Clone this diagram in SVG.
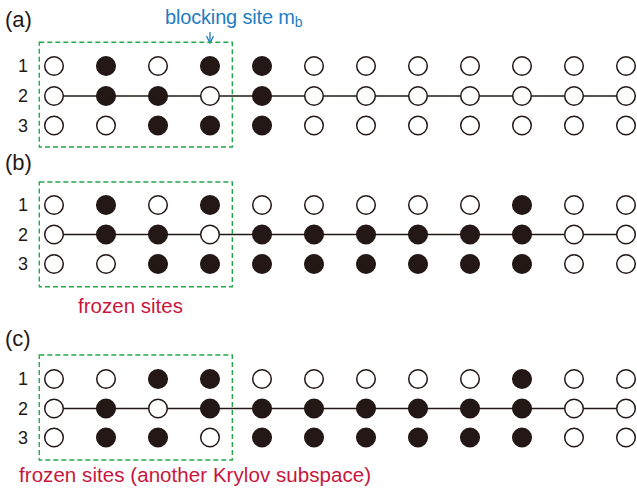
<svg xmlns="http://www.w3.org/2000/svg" width="637" height="493" viewBox="0 0 637 493">
<style>
.o{fill:#fff;stroke:#231815;stroke-width:1.5}
.f{fill:#231815;stroke:#231815;stroke-width:1.5}
.ln{stroke:#231815;stroke-width:1.5;fill:none}
.box{fill:none;stroke:#22a94b;stroke-width:1.4;stroke-dasharray:5 3}
.pl{font-family:"Liberation Sans",Arial,sans-serif;font-size:22px;fill:#231815}
.rl{font-family:"Liberation Sans",Arial,sans-serif;font-size:18px;fill:#231815;text-anchor:end}
.red{font-family:"Liberation Sans",Arial,sans-serif;font-size:20.5px;fill:#c8163c}
.blue{font-family:"Liberation Sans",Arial,sans-serif;font-size:20px;fill:#1f7ec1}
</style>
<rect width="637" height="493" fill="#fff"/>

<g id="connectors">
<line class="ln" x1="54" y1="96" x2="626" y2="96"/>
<line class="ln" x1="54" y1="234.5" x2="626" y2="234.5"/>
<line class="ln" x1="54" y1="408.5" x2="626" y2="408.5"/>
<g id="blocking-arrow" stroke="#1f7ec1" stroke-width="1.3" fill="none">
<line x1="210" y1="32" x2="210" y2="43"/>
<path d="M206.5,36 L210,43 L213.5,36"/>
</g>
</g>

<g id="labels">
<text class="pl" x="5" y="27">(a)</text>
<text class="pl" x="5" y="170">(b)</text>
<text class="pl" x="5" y="346">(c)</text>
<text class="rl" x="28" y="72">1</text>
<text class="rl" x="28" y="102">2</text>
<text class="rl" x="28" y="131.5">3</text>
<text class="rl" x="28" y="211">1</text>
<text class="rl" x="28" y="240.5">2</text>
<text class="rl" x="28" y="270">3</text>
<text class="rl" x="28" y="385">1</text>
<text class="rl" x="28" y="414.5">2</text>
<text class="rl" x="28" y="443.5">3</text>
<text class="blue" x="165" y="24"><tspan textLength="130">blocking site m</tspan><tspan font-size="14" dy="3">b</tspan></text>
<text class="red" x="78" y="313" textLength="105">frozen sites</text>
<text class="red" x="19" y="482" textLength="352">frozen sites (another Krylov subspace)</text>
</g>

<g id="box-a"><rect class="box" x="39.3" y="42.3" width="193" height="104.7"/></g>
<g id="box-b"><rect class="box" x="39.3" y="182" width="193" height="104.7"/></g>
<g id="box-c"><rect class="box" x="39.3" y="355" width="193" height="105"/></g>

<g id="panel-a">
<g id="a1-1"><circle class="o" cx="54" cy="66" r="9.3"/></g>
<g id="a1-2"><circle class="f" cx="106" cy="66" r="9.3"/></g>
<g id="a1-3"><circle class="o" cx="158" cy="66" r="9.3"/></g>
<g id="a1-4"><circle class="f" cx="210" cy="66" r="9.3"/></g>
<g id="a1-5"><circle class="f" cx="262" cy="66" r="9.3"/></g>
<g id="a1-6"><circle class="o" cx="314" cy="66" r="9.3"/></g>
<g id="a1-7"><circle class="o" cx="366" cy="66" r="9.3"/></g>
<g id="a1-8"><circle class="o" cx="418" cy="66" r="9.3"/></g>
<g id="a1-9"><circle class="o" cx="470" cy="66" r="9.3"/></g>
<g id="a1-10"><circle class="o" cx="522" cy="66" r="9.3"/></g>
<g id="a1-11"><circle class="o" cx="574" cy="66" r="9.3"/></g>
<g id="a1-12"><circle class="o" cx="626" cy="66" r="9.3"/></g>
<g id="a2-1"><circle class="o" cx="54" cy="96" r="9.3"/></g>
<g id="a2-2"><circle class="f" cx="106" cy="96" r="9.3"/></g>
<g id="a2-3"><circle class="f" cx="158" cy="96" r="9.3"/></g>
<g id="a2-4"><circle class="o" cx="210" cy="96" r="9.3"/></g>
<g id="a2-5"><circle class="f" cx="262" cy="96" r="9.3"/></g>
<g id="a2-6"><circle class="o" cx="314" cy="96" r="9.3"/></g>
<g id="a2-7"><circle class="o" cx="366" cy="96" r="9.3"/></g>
<g id="a2-8"><circle class="o" cx="418" cy="96" r="9.3"/></g>
<g id="a2-9"><circle class="o" cx="470" cy="96" r="9.3"/></g>
<g id="a2-10"><circle class="o" cx="522" cy="96" r="9.3"/></g>
<g id="a2-11"><circle class="o" cx="574" cy="96" r="9.3"/></g>
<g id="a2-12"><circle class="o" cx="626" cy="96" r="9.3"/></g>
<g id="a3-1"><circle class="o" cx="54" cy="125.5" r="9.3"/></g>
<g id="a3-2"><circle class="o" cx="106" cy="125.5" r="9.3"/></g>
<g id="a3-3"><circle class="f" cx="158" cy="125.5" r="9.3"/></g>
<g id="a3-4"><circle class="f" cx="210" cy="125.5" r="9.3"/></g>
<g id="a3-5"><circle class="f" cx="262" cy="125.5" r="9.3"/></g>
<g id="a3-6"><circle class="o" cx="314" cy="125.5" r="9.3"/></g>
<g id="a3-7"><circle class="o" cx="366" cy="125.5" r="9.3"/></g>
<g id="a3-8"><circle class="o" cx="418" cy="125.5" r="9.3"/></g>
<g id="a3-9"><circle class="o" cx="470" cy="125.5" r="9.3"/></g>
<g id="a3-10"><circle class="o" cx="522" cy="125.5" r="9.3"/></g>
<g id="a3-11"><circle class="o" cx="574" cy="125.5" r="9.3"/></g>
<g id="a3-12"><circle class="o" cx="626" cy="125.5" r="9.3"/></g>
</g>

<g id="panel-b">
<g id="b1-1"><circle class="o" cx="54" cy="205" r="9.3"/></g>
<g id="b1-2"><circle class="f" cx="106" cy="205" r="9.3"/></g>
<g id="b1-3"><circle class="o" cx="158" cy="205" r="9.3"/></g>
<g id="b1-4"><circle class="f" cx="210" cy="205" r="9.3"/></g>
<g id="b1-5"><circle class="o" cx="262" cy="205" r="9.3"/></g>
<g id="b1-6"><circle class="o" cx="314" cy="205" r="9.3"/></g>
<g id="b1-7"><circle class="o" cx="366" cy="205" r="9.3"/></g>
<g id="b1-8"><circle class="o" cx="418" cy="205" r="9.3"/></g>
<g id="b1-9"><circle class="o" cx="470" cy="205" r="9.3"/></g>
<g id="b1-10"><circle class="f" cx="522" cy="205" r="9.3"/></g>
<g id="b1-11"><circle class="o" cx="574" cy="205" r="9.3"/></g>
<g id="b1-12"><circle class="o" cx="626" cy="205" r="9.3"/></g>
<g id="b2-1"><circle class="o" cx="54" cy="234.5" r="9.3"/></g>
<g id="b2-2"><circle class="f" cx="106" cy="234.5" r="9.3"/></g>
<g id="b2-3"><circle class="f" cx="158" cy="234.5" r="9.3"/></g>
<g id="b2-4"><circle class="o" cx="210" cy="234.5" r="9.3"/></g>
<g id="b2-5"><circle class="f" cx="262" cy="234.5" r="9.3"/></g>
<g id="b2-6"><circle class="f" cx="314" cy="234.5" r="9.3"/></g>
<g id="b2-7"><circle class="f" cx="366" cy="234.5" r="9.3"/></g>
<g id="b2-8"><circle class="f" cx="418" cy="234.5" r="9.3"/></g>
<g id="b2-9"><circle class="f" cx="470" cy="234.5" r="9.3"/></g>
<g id="b2-10"><circle class="f" cx="522" cy="234.5" r="9.3"/></g>
<g id="b2-11"><circle class="o" cx="574" cy="234.5" r="9.3"/></g>
<g id="b2-12"><circle class="o" cx="626" cy="234.5" r="9.3"/></g>
<g id="b3-1"><circle class="o" cx="54" cy="264" r="9.3"/></g>
<g id="b3-2"><circle class="o" cx="106" cy="264" r="9.3"/></g>
<g id="b3-3"><circle class="f" cx="158" cy="264" r="9.3"/></g>
<g id="b3-4"><circle class="f" cx="210" cy="264" r="9.3"/></g>
<g id="b3-5"><circle class="f" cx="262" cy="264" r="9.3"/></g>
<g id="b3-6"><circle class="f" cx="314" cy="264" r="9.3"/></g>
<g id="b3-7"><circle class="f" cx="366" cy="264" r="9.3"/></g>
<g id="b3-8"><circle class="f" cx="418" cy="264" r="9.3"/></g>
<g id="b3-9"><circle class="f" cx="470" cy="264" r="9.3"/></g>
<g id="b3-10"><circle class="f" cx="522" cy="264" r="9.3"/></g>
<g id="b3-11"><circle class="o" cx="574" cy="264" r="9.3"/></g>
<g id="b3-12"><circle class="o" cx="626" cy="264" r="9.3"/></g>
</g>

<g id="panel-c">
<g id="c1-1"><circle class="o" cx="54" cy="379" r="9.3"/></g>
<g id="c1-2"><circle class="o" cx="106" cy="379" r="9.3"/></g>
<g id="c1-3"><circle class="f" cx="158" cy="379" r="9.3"/></g>
<g id="c1-4"><circle class="f" cx="210" cy="379" r="9.3"/></g>
<g id="c1-5"><circle class="o" cx="262" cy="379" r="9.3"/></g>
<g id="c1-6"><circle class="o" cx="314" cy="379" r="9.3"/></g>
<g id="c1-7"><circle class="o" cx="366" cy="379" r="9.3"/></g>
<g id="c1-8"><circle class="o" cx="418" cy="379" r="9.3"/></g>
<g id="c1-9"><circle class="o" cx="470" cy="379" r="9.3"/></g>
<g id="c1-10"><circle class="f" cx="522" cy="379" r="9.3"/></g>
<g id="c1-11"><circle class="o" cx="574" cy="379" r="9.3"/></g>
<g id="c1-12"><circle class="o" cx="626" cy="379" r="9.3"/></g>
<g id="c2-1"><circle class="o" cx="54" cy="408.5" r="9.3"/></g>
<g id="c2-2"><circle class="f" cx="106" cy="408.5" r="9.3"/></g>
<g id="c2-3"><circle class="o" cx="158" cy="408.5" r="9.3"/></g>
<g id="c2-4"><circle class="f" cx="210" cy="408.5" r="9.3"/></g>
<g id="c2-5"><circle class="f" cx="262" cy="408.5" r="9.3"/></g>
<g id="c2-6"><circle class="f" cx="314" cy="408.5" r="9.3"/></g>
<g id="c2-7"><circle class="f" cx="366" cy="408.5" r="9.3"/></g>
<g id="c2-8"><circle class="f" cx="418" cy="408.5" r="9.3"/></g>
<g id="c2-9"><circle class="f" cx="470" cy="408.5" r="9.3"/></g>
<g id="c2-10"><circle class="f" cx="522" cy="408.5" r="9.3"/></g>
<g id="c2-11"><circle class="o" cx="574" cy="408.5" r="9.3"/></g>
<g id="c2-12"><circle class="o" cx="626" cy="408.5" r="9.3"/></g>
<g id="c3-1"><circle class="o" cx="54" cy="437.5" r="9.3"/></g>
<g id="c3-2"><circle class="f" cx="106" cy="437.5" r="9.3"/></g>
<g id="c3-3"><circle class="f" cx="158" cy="437.5" r="9.3"/></g>
<g id="c3-4"><circle class="o" cx="210" cy="437.5" r="9.3"/></g>
<g id="c3-5"><circle class="f" cx="262" cy="437.5" r="9.3"/></g>
<g id="c3-6"><circle class="f" cx="314" cy="437.5" r="9.3"/></g>
<g id="c3-7"><circle class="f" cx="366" cy="437.5" r="9.3"/></g>
<g id="c3-8"><circle class="f" cx="418" cy="437.5" r="9.3"/></g>
<g id="c3-9"><circle class="f" cx="470" cy="437.5" r="9.3"/></g>
<g id="c3-10"><circle class="f" cx="522" cy="437.5" r="9.3"/></g>
<g id="c3-11"><circle class="o" cx="574" cy="437.5" r="9.3"/></g>
<g id="c3-12"><circle class="o" cx="626" cy="437.5" r="9.3"/></g>
</g>
</svg>
